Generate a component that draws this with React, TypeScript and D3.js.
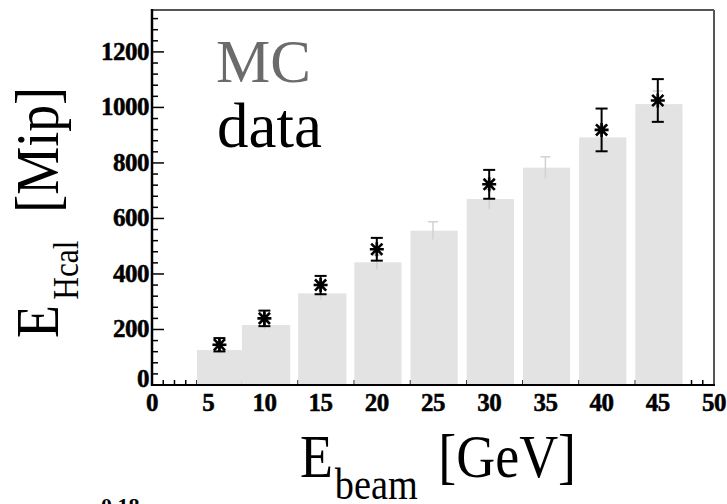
import React from "react";
import * as d3 from "d3";

// Beam energies (GeV) of the simulated runs and their histogram bin edges
const mcEnergy = [6, 10, 15, 20, 25, 30, 35, 40, 45];
const mcBinLow = [4, 8, 13, 18, 23, 28, 33, 38, 43];
const mcBinHigh = [8, 12.3, 17.3, 22.2, 27.2, 32.2, 37.2, 42.2, 47.2];
// Mean HCAL energy in MC (Mip) and its uncertainty
const mcValue = [126, 216, 330, 442, 556, 670, 783, 892, 1012];
const mcError = [12, 16, 22, 26, 32, 35, 39, 43, 47];

// Measured data points
const dataEnergy = [6, 10, 15, 20, 30, 40, 45];
const dataValue = [145, 240, 360, 489, 723, 919, 1025];
const dataError = [24, 28, 33, 41, 52, 77, 77];

const xTicks = [0, 5, 10, 15, 20, 25, 30, 35, 40, 45, 50];
const yTicks = [0, 200, 400, 600, 800, 1000, 1200];

const W = 727;
const H = 504;
const serif = "'Liberation Serif', 'Times New Roman', serif";

export default function App() {
  const x = d3.scaleLinear().domain([0, 50]).range([152, 714]);
  const y = d3.scaleLinear().domain([0, 1351]).range([385, 10]);

  const xMinor = d3.range(0, 51, 1);
  const yMinor = d3.range(0, 1351, 40);

  const star = (cx: number, cy: number, r: number) =>
    `M${cx - r},${cy}L${cx + r},${cy}M${cx},${cy - r}L${cx},${cy + r}` +
    `M${cx - r * 0.8},${cy - r * 0.8}L${cx + r * 0.8},${cy + r * 0.8}` +
    `M${cx - r * 0.8},${cy + r * 0.8}L${cx + r * 0.8},${cy - r * 0.8}`;

  return (
    <svg
      width={W}
      height={H}
      style={{ position: "absolute", left: 0, top: 0, background: "#fff" }}
    >
      {/* tick marks (drawn below the bars) */}
      {xMinor.map((v) => (
        <line
          key={"xm" + v}
          x1={x(v)}
          x2={x(v)}
          y1={y(0)}
          y2={y(0) - (v % 5 === 0 ? 11 : 5)}
          stroke="#000"
          strokeWidth={1.5}
        />
      ))}
      {yMinor.map((v) => (
        <line
          key={"ym" + v}
          x1={x(0)}
          x2={x(0) + (v % 200 === 0 ? 12 : 6)}
          y1={y(v)}
          y2={y(v)}
          stroke="#000"
          strokeWidth={1.5}
        />
      ))}

      {/* MC histogram bars */}
      {mcValue.map((v, i) => (
        <rect
          key={"bar" + i}
          x={x(mcBinLow[i])}
          y={y(v)}
          width={x(mcBinHigh[i]) - x(mcBinLow[i])}
          height={y(0) - y(v) - 1}
          fill="#e3e3e3"
        />
      ))}
      {/* MC uncertainties */}
      {mcValue.map((v, i) => (
        <g key={"mce" + i} stroke="#d2d2d2" strokeWidth={1.5}>
          <line x1={x(mcEnergy[i])} x2={x(mcEnergy[i])} y1={y(v - mcError[i])} y2={y(v + mcError[i])} />
          <line x1={x(mcEnergy[i]) - 5} x2={x(mcEnergy[i]) + 5} y1={y(v + mcError[i])} y2={y(v + mcError[i])} />
        </g>
      ))}

      {/* frame */}
      <line x1={x(0)} x2={x(50)} y1={y(1351)} y2={y(1351)} stroke="#555" strokeWidth={2} />
      <line x1={x(50)} x2={x(50)} y1={y(1351)} y2={y(0)} stroke="#555" strokeWidth={2} />
      <line x1={x(0)} x2={x(0)} y1={y(1351) - 1} y2={y(0) + 1} stroke="#000" strokeWidth={2.5} />
      <line x1={x(0) - 1} x2={x(50) + 1} y1={y(0)} y2={y(0)} stroke="#000" strokeWidth={2.2} />

      {/* data points with error bars */}
      {dataValue.map((v, i) => {
        const cx = x(dataEnergy[i]);
        const lo = y(v - dataError[i]);
        const hi = y(v + dataError[i]);
        return (
          <g key={"d" + i} stroke="#000" fill="none">
            <line x1={cx} x2={cx} y1={lo} y2={hi} strokeWidth={2} />
            <line x1={cx - 6} x2={cx + 6} y1={lo} y2={lo} strokeWidth={2} />
            <line x1={cx - 6} x2={cx + 6} y1={hi} y2={hi} strokeWidth={2} />
            <path d={star(cx, y(v), 7)} strokeWidth={2.6} />
          </g>
        );
      })}

      {/* tick labels */}
      {yTicks.map((v) => (
        <text
          key={"yl" + v}
          x={x(0) - 3}
          y={y(v) + (v === 0 ? 2 : 8)}
          textAnchor="end"
          fontFamily={serif}
          fontWeight="bold"
          fontSize={25}
          letterSpacing={-0.5}
          stroke="#000"
          strokeWidth={0.5}
        >
          {v}
        </text>
      ))}
      {xTicks.map((v) => (
        <text
          key={"xl" + v}
          x={x(v)}
          y={411}
          textAnchor="middle"
          fontFamily={serif}
          fontWeight="bold"
          fontSize={25}
          letterSpacing={-0.5}
          stroke="#000"
          strokeWidth={0.5}
        >
          {v}
        </text>
      ))}

      {/* legend text */}
      <text x={216} y={82} fontFamily={serif} fontSize={61} fill="#6b6b6b">
        MC
      </text>
      <text x={217} y={147} fontFamily={serif} fontSize={63} fill="#000">
        data
      </text>

      {/* x-axis title */}
      <g transform="translate(300,477) scale(0.87,1)" fontFamily={serif} fill="#000">
        <text x={0} y={0} fontSize={62}>E</text>
        <text x={40} y={22} fontSize={44}>beam</text>
        <text x={159} y={0} fontSize={62}>[GeV]</text>
      </g>

      {/* y-axis title */}
      <g transform="translate(58,338) rotate(-90) scale(0.87,1)" fontFamily={serif} fill="#000">
        <text x={0} y={0} fontSize={62}>E</text>
        <text x={44} y={20} fontSize={36}>Hcal</text>
        <text x={144} y={0} fontSize={62}>[Mip]</text>
      </g>

      {/* top of the next panel's axis label */}
      <text x={101} y={513} fontFamily={serif} fontWeight="bold" fontSize={22}>
        0.18
      </text>
    </svg>
  );
}
